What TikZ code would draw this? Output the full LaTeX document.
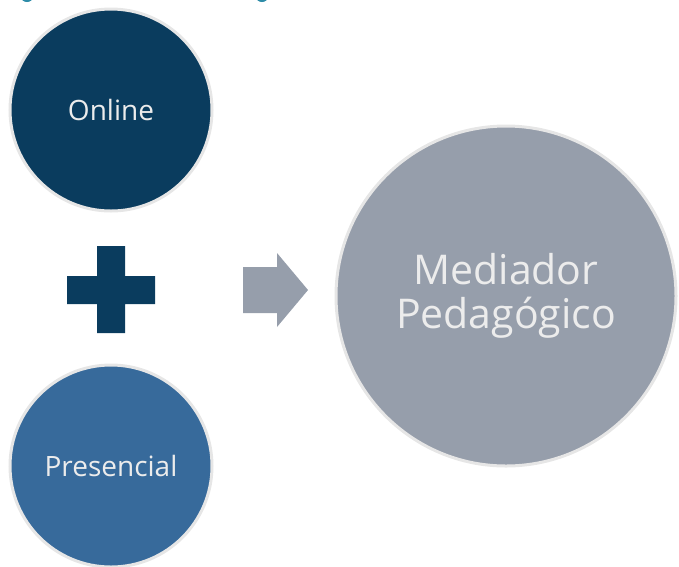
\documentclass[tikz,border=0pt]{standalone}
\usepackage{fontspec}
\setmainfont{Open Sans}
\definecolor{navy}{HTML}{0A3C5E}
\definecolor{midblue}{HTML}{376A9B}
\definecolor{slate}{HTML}{969EAB}
\definecolor{rim}{HTML}{E6E6E6}
\definecolor{txt}{HTML}{ECECEC}
\definecolor{teal}{HTML}{2E8CA8}
\begin{document}
\begin{tikzpicture}[x=1pt,y=-1pt,
  bubble/.style={circle,draw=rim,line width=3pt,text=txt,inner sep=0pt,align=center},
  small/.style={bubble,minimum size=202pt,font=\fontsize{28}{32}\selectfont},
  big/.style={bubble,minimum size=340pt,font=\fontsize{41}{44}\selectfont}]
\useasboundingbox (0,0) rectangle (679,566);
% cut-off title fragments at the top edge
\begin{scope}
\clip (0,0) rectangle (679,3);
\fill[teal] (27,-3) ellipse (6pt and 5pt);
\fill[teal] (262,-3) ellipse (6pt and 5pt);
\end{scope}
\node[small,fill=navy] (online) at (111,110) {Online};
\node[small,fill=midblue] (pres) at (111,466) {Presencial};
\node[big,fill=slate] (med) at (506,296) {Mediador\\Pedagógico};
% plus sign
\fill[navy] (67,276) -- (97,276) -- (97,246) -- (125,246) -- (125,276) -- (155,276)
  -- (155,304) -- (125,304) -- (125,333) -- (97,333) -- (97,304) -- (67,304) -- cycle;
% arrow
\fill[slate] (243,267) -- (277,267) -- (277,253) -- (308,290) -- (277,327) -- (277,313) -- (243,313) -- cycle;
\end{tikzpicture}
\end{document}
